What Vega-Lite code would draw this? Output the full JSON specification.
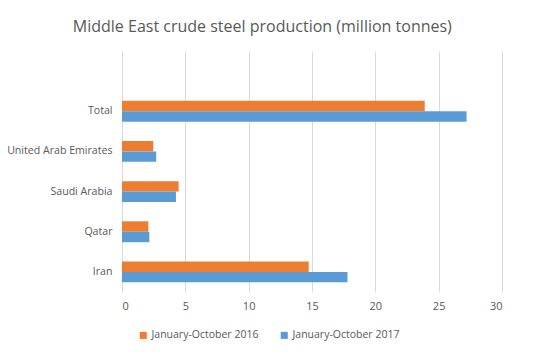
{
  "$schema": "https://vega.github.io/schema/vega-lite/v6.json",
  "autosize": "none",
  "width": 380,
  "height": 241,
  "padding": {"left": 122, "top": 51, "right": 33, "bottom": 62},
  "background": "white",
  "title": {
    "text": "Middle East crude steel production (million tonnes)",
    "font": "Open Sans",
    "fontSize": 16,
    "fontWeight": "normal",
    "color": "#595959",
    "anchor": "middle",
    "frame": "bounds",
    "dx": 8,
    "offset": 16
  },
  "data": {
    "values": [
      {"country": "Total", "period": "January-October 2016", "value": 23.9},
      {"country": "Total", "period": "January-October 2017", "value": 27.2},
      {"country": "United Arab Emirates", "period": "January-October 2016", "value": 2.47},
      {"country": "United Arab Emirates", "period": "January-October 2017", "value": 2.7},
      {"country": "Saudi Arabia", "period": "January-October 2016", "value": 4.47},
      {"country": "Saudi Arabia", "period": "January-October 2017", "value": 4.26},
      {"country": "Qatar", "period": "January-October 2016", "value": 2.08},
      {"country": "Qatar", "period": "January-October 2017", "value": 2.16},
      {"country": "Iran", "period": "January-October 2016", "value": 14.74},
      {"country": "Iran", "period": "January-October 2017", "value": 17.8}
    ]
  },
  "mark": {"type": "bar"},
  "encoding": {
    "y": {
      "field": "country",
      "type": "nominal",
      "scale": {
        "domain": [" ", "Total", "United Arab Emirates", "Saudi Arabia", "Qatar", "Iran"],
        "paddingInner": 0.48,
        "paddingOuter": 0.24
      },
      "axis": {
        "title": null,
        "domain": false,
        "ticks": false,
        "labelFont": "Open Sans",
        "labelFontSize": 10.6,
        "labelColor": "#595959",
        "labelPadding": 10
      }
    },
    "yOffset": {
      "field": "period",
      "type": "nominal",
      "sort": ["January-October 2016", "January-October 2017"]
    },
    "x": {
      "field": "value",
      "type": "quantitative",
      "scale": {"domain": [0, 30]},
      "axis": {
        "title": null,
        "values": [0, 5, 10, 15, 20, 25, 30],
        "domain": false,
        "ticks": false,
        "grid": true,
        "gridColor": "#d9d9d9",
        "labelFont": "Open Sans",
        "labelFontSize": 11,
        "labelColor": "#595959",
        "labelPadding": 8
      }
    },
    "color": {
      "field": "period",
      "type": "nominal",
      "scale": {
        "domain": ["January-October 2016", "January-October 2017"],
        "range": ["#ED7D31", "#5B9BD5"]
      },
      "legend": {
        "title": null,
        "orient": "none",
        "direction": "horizontal",
        "legendX": 16,
        "legendY": 279,
        "symbolType": "square",
        "symbolSize": 50,
        "symbolStrokeWidth": 0,
        "labelFont": "Open Sans",
        "labelFontSize": 10.5,
        "labelColor": "#595959",
        "labelOffset": 3,
        "columnPadding": 20
      }
    }
  },
  "config": {
    "view": {"stroke": null}
  }
}
